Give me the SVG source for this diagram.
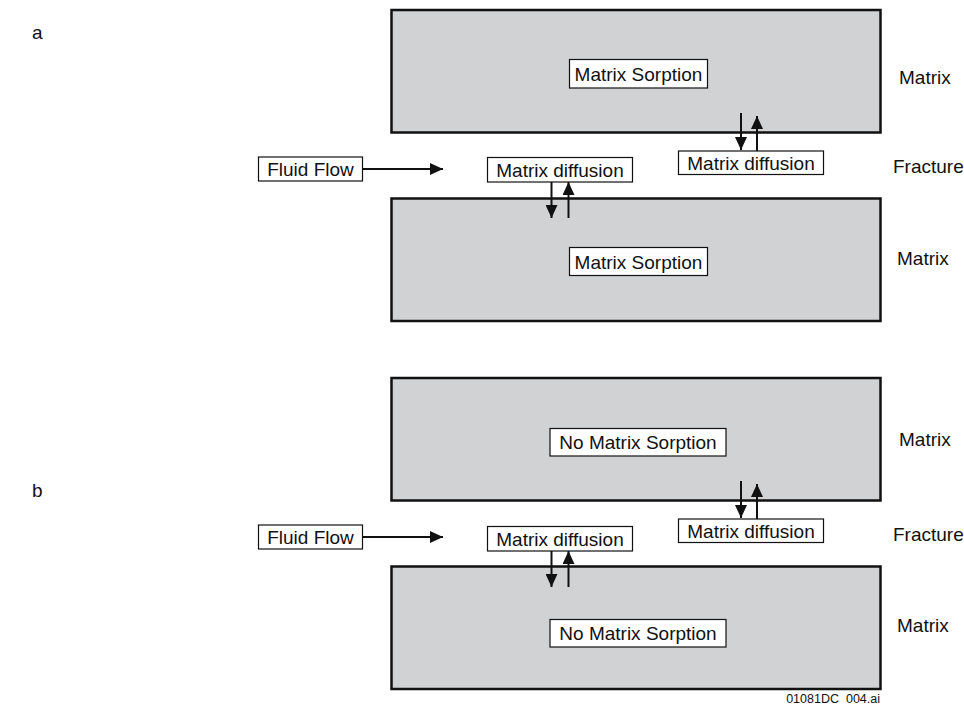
<svg xmlns="http://www.w3.org/2000/svg" width="964" height="705" viewBox="0 0 964 705">
  <style>
    text { font-family: "Liberation Sans", Arial, sans-serif; font-size: 19px; fill: #111; }
    .mid { text-anchor: middle; }
    .block { fill: #d1d2d4; stroke: #111; stroke-width: 2.5; }
    .lbl { fill: #fff; stroke: #111; stroke-width: 1.2; }
    .arr { stroke: #111; stroke-width: 2; fill: none; marker-end: url(#ah); }
    .foot { font-size: 12.5px; text-anchor: end; white-space: pre; }
  </style>
  <defs>
    <marker id="ah" viewBox="0 0 13 12" refX="13" refY="6" markerWidth="13" markerHeight="12" markerUnits="userSpaceOnUse" orient="auto">
      <path d="M0,0 L13,6 L0,12 Z" fill="#111"/>
    </marker>
  </defs>

  <text x="32" y="39">a</text>
  <text x="32" y="497">b</text>

  <!-- Panel a -->
  <g id="a-matrix-top">
    <rect class="block" x="391.5" y="10" width="489" height="122.5"/>
    <rect class="lbl" x="569.5" y="59.5" width="138" height="28.5"/>
    <text class="mid" x="638.5" y="80.5">Matrix Sorption</text>
  </g>
  <g id="a-matrix-bottom">
    <rect class="block" x="391.5" y="198.5" width="489" height="122.5"/>
    <rect class="lbl" x="569.5" y="247.5" width="138" height="28"/>
    <text class="mid" x="638.5" y="268.5">Matrix Sorption</text>
  </g>
  <g id="a-fluid-flow">
    <rect class="lbl" x="258.5" y="157" width="104" height="24"/>
    <text class="mid" x="310.5" y="176">Fluid Flow</text>
  </g>
  <g id="a-diffusion-left">
    <rect class="lbl" x="487.5" y="157.5" width="145" height="24.5"/>
    <text class="mid" x="560" y="176.5">Matrix diffusion</text>
  </g>
  <g id="a-diffusion-right">
    <rect class="lbl" x="678.5" y="151" width="145" height="23.5"/>
    <text class="mid" x="751" y="170">Matrix diffusion</text>
  </g>
  <g id="a-side-labels">
    <text x="899" y="84">Matrix</text>
    <text x="893" y="173">Fracture</text>
    <text x="897" y="265">Matrix</text>
  </g>

  <!-- Panel b -->
  <g id="b-matrix-top">
    <rect class="block" x="391.5" y="378" width="489" height="122.5"/>
    <rect class="lbl" x="550" y="428.5" width="176" height="27.5"/>
    <text class="mid" x="638" y="449">No Matrix Sorption</text>
  </g>
  <g id="b-matrix-bottom">
    <rect class="block" x="391.5" y="566.5" width="489" height="122.5"/>
    <rect class="lbl" x="550" y="619.5" width="176" height="27.5"/>
    <text class="mid" x="638" y="640">No Matrix Sorption</text>
  </g>
  <g id="b-fluid-flow">
    <rect class="lbl" x="258.5" y="525" width="104" height="24"/>
    <text class="mid" x="310.5" y="544">Fluid Flow</text>
  </g>
  <g id="b-diffusion-left">
    <rect class="lbl" x="487.5" y="526.5" width="145" height="24.5"/>
    <text class="mid" x="560" y="545.5">Matrix diffusion</text>
  </g>
  <g id="b-diffusion-right">
    <rect class="lbl" x="678.5" y="519" width="145" height="23.5"/>
    <text class="mid" x="751" y="538">Matrix diffusion</text>
  </g>
  <g id="b-side-labels">
    <text x="899" y="446">Matrix</text>
    <text x="893" y="541">Fracture</text>
    <text x="897" y="632">Matrix</text>
  </g>

  <g id="connectors">
    <line class="arr" x1="362.5" y1="169" x2="443" y2="169"/>
    <line class="arr" x1="741" y1="113" x2="741" y2="150"/>
    <line class="arr" x1="757" y1="151" x2="757" y2="116"/>
    <line class="arr" x1="551.5" y1="182" x2="551.5" y2="218"/>
    <line class="arr" x1="568.5" y1="218" x2="568.5" y2="182"/>

    <line class="arr" x1="362.5" y1="537" x2="443" y2="537"/>
    <line class="arr" x1="741" y1="481" x2="741" y2="518"/>
    <line class="arr" x1="757" y1="519" x2="757" y2="484"/>
    <line class="arr" x1="551.5" y1="551" x2="551.5" y2="587"/>
    <line class="arr" x1="568.5" y1="587" x2="568.5" y2="551"/>
  </g>

  <text class="foot" x="880" y="703">01081DC  004.ai</text>
</svg>
